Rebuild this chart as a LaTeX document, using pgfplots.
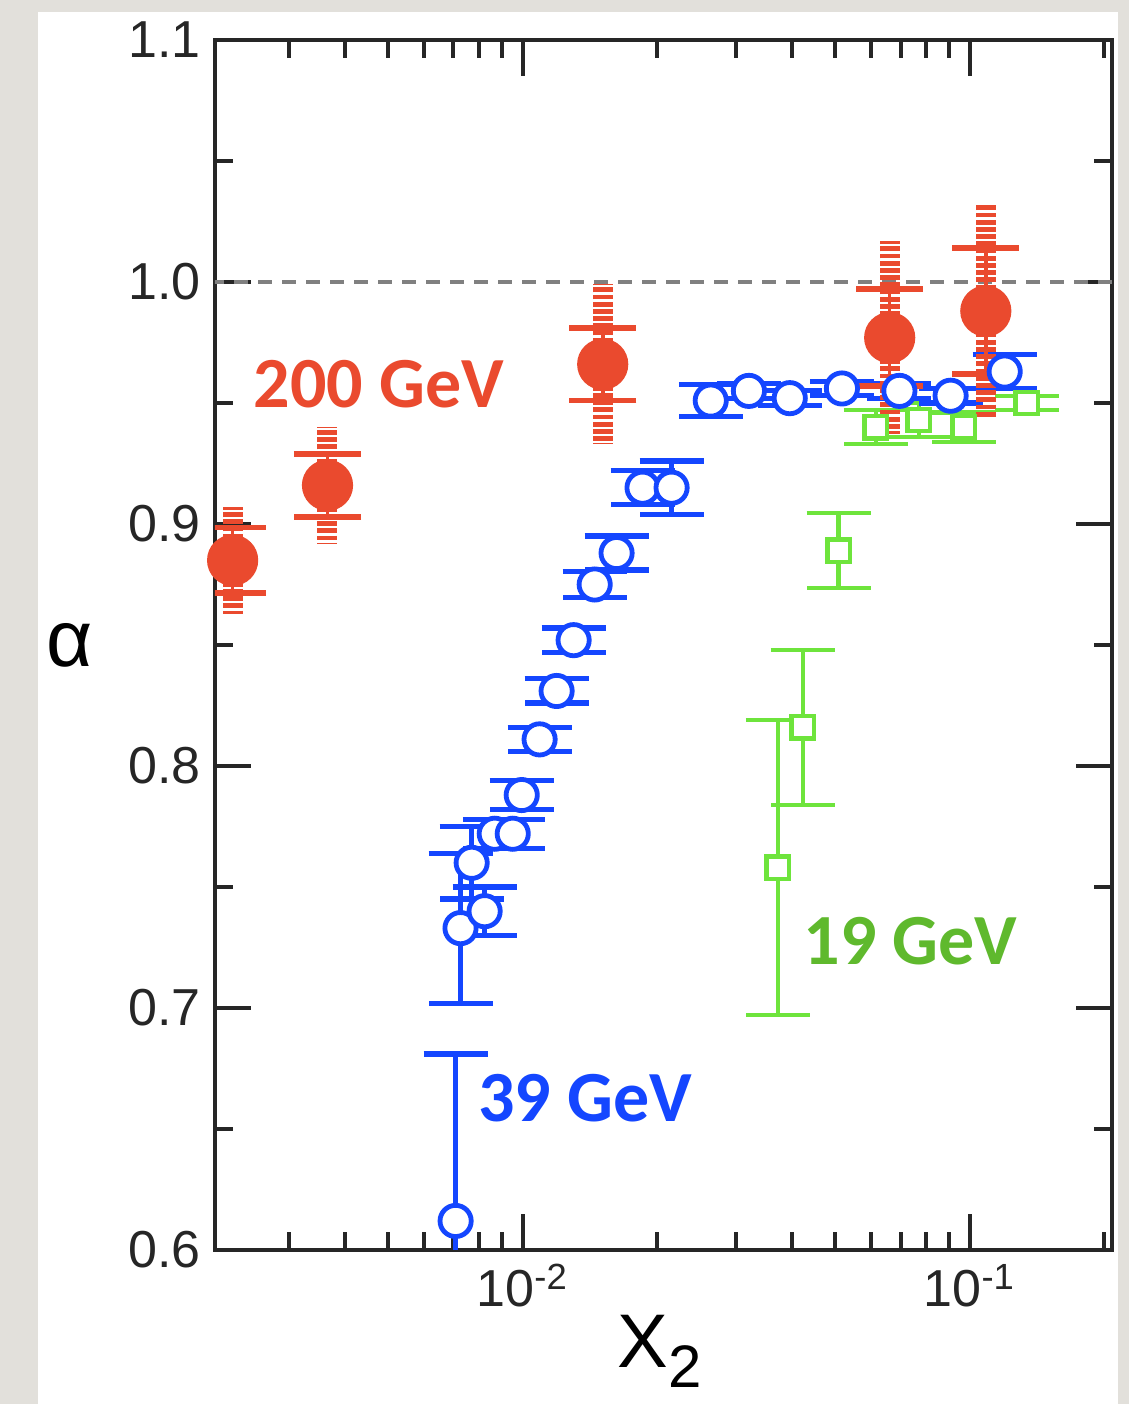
\documentclass[border=0pt]{standalone}
\usepackage{fontspec}
\setmainfont{Liberation Sans}
\newfontfamily\calibri{Carlito}
\usepackage{pgfplots}
\usepackage{pgfplotstable}
\pgfplotsset{compat=1.18}

\definecolor{ared}{RGB}{234,74,46}
\definecolor{ablue}{RGB}{20,70,255}
\definecolor{agreen}{RGB}{110,228,60}
\definecolor{agreentext}{RGB}{95,185,45}
\definecolor{bggray}{RGB}{226,224,219}

% 39 GeV, open circles
\pgfplotstableread{
x y e
0.00708 0.612 0.069
0.00726 0.733 0.031
0.00822 0.740 0.010
0.00769 0.760 0.015
0.00866 0.772 0.006
0.00950 0.772 0.006
0.00995 0.788 0.006
0.01091 0.811 0.005
0.01191 0.831 0.005
0.01300 0.852 0.005
0.01449 0.875 0.0055
0.01622 0.888 0.007
0.01854 0.915 0.007
0.02153 0.915 0.011
0.02634 0.951 0.0065
0.03206 0.955 0.003
0.03957 0.952 0.003
0.05176 0.956 0.003
0.0696 0.955 0.003
0.0906 0.953 0.003
0.1197 0.963 0.007
}\bluedata

% 19 GeV, open squares
\pgfplotstableread{
x y e
0.0372 0.758 0.061
0.0423 0.816 0.032
0.0509 0.889 0.0155
0.0616 0.940 0.007
0.0769 0.943 0.007
0.0970 0.940 0.006
0.1340 0.950 0.003
}\greendata

% 200 GeV, filled circles: stat and sys errors
\pgfplotstableread{
x y stat sys
0.002245 0.885 0.0135 0.022
0.00366 0.916 0.013 0.024
0.0151 0.966 0.015 0.033
0.0662 0.977 0.020 0.040
0.1086 0.988 0.026 0.044
}\reddata

\begin{document}
\begin{tikzpicture}
\useasboundingbox (-53.75pt,-38.5pt) rectangle (228.5pt,312.5pt);
\fill[bggray] (-53.75pt,-38.5pt) rectangle (228.5pt,312.5pt);
\fill[white] (-44.25pt,-38.5pt) rectangle (225.75pt,309.5pt);
\begin{axis}[
    at={(0,0)}, anchor=south west,
    scale only axis, width=224.25pt, height=302.5pt,
    xmode=log, xmin=0.00205, xmax=0.208,
    ymin=0.6, ymax=1.1,
    xtick={0.01,0.1},
    xticklabels={10\textsuperscript{-2},10\textsuperscript{-1}},
    minor xtick={0.003,0.004,0.005,0.006,0.007,0.008,0.009,0.02,0.03,0.04,0.05,0.06,0.07,0.08,0.09,0.2},
    ytick={0.6,0.7,0.8,0.9,1.0,1.1},
    minor ytick={0.65,0.75,0.85,0.95,1.05},
    yticklabel style={/pgf/number format/.cd, fixed, precision=1, zerofill, assume math mode=true},
    tick label style={font=\fontsize{13}{13}\selectfont, black!85},
    major tick length=9pt, minor tick length=4.5pt,
    every tick/.style={black!85, line width=1pt},
    axis line style={black!85, line width=1.1pt},
    ylabel={α},
    ylabel style={rotate=-90, at={(rel axis cs:-0.162,0.5)}, anchor=center, font=\fontsize{20}{20}\selectfont},
    xlabel={X\raisebox{-0.5ex}{\fontsize{15}{15}\selectfont 2}},
    xlabel style={at={(rel axis cs:0.496,-0.084)}, anchor=center, font=\fontsize{19}{19}\selectfont},
]
\addplot[gray, line width=0.8pt, dash pattern=on 3.5pt off 2.5pt] coordinates {(0.002,1.0) (0.25,1.0)};

\addplot[only marks, mark=square*, mark size=2.8pt, color=agreen, mark options={line width=1.1pt, draw=agreen, fill=white},
    error bars/.cd, y dir=both, y explicit,
    error bar style={line width=1.1pt, agreen},
    error mark options={rotate=90, mark size=8pt, line width=1.1pt, agreen}]
    table[x=x, y=y, y error=e] {\greendata};

\addplot[only marks, mark=*, mark size=3.9pt, color=ablue, mark options={line width=1.2pt, draw=ablue, fill=white},
    error bars/.cd, y dir=both, y explicit,
    error bar style={line width=1.2pt, ablue},
    error mark options={rotate=90, mark size=8pt, line width=1.3pt, ablue}]
    table[x=x, y=y, y error=e] {\bluedata};

\addplot[only marks, mark=none,
    error bars/.cd, y dir=both, y explicit,
    error bar style={draw=ared, line width=5pt, dash pattern=on 1.2pt off 0.6pt},
    error mark=none]
    table[x=x, y=y, y error=sys] {\reddata};

\addplot[only marks, mark=none,
    error bars/.cd, y dir=both, y explicit,
    error bar style={draw=ared, line width=0.9pt},
    error mark options={rotate=90, mark size=8.4pt, line width=1.4pt, ared}]
    table[x=x, y=y, y error=stat] {\reddata};

\addplot[only marks, mark=*, mark size=6.2pt, color=ared] table[x=x, y=y] {\reddata};

\node[font=\calibri\bfseries\fontsize{18}{18}\selectfont, text=ared, anchor=base west, inner sep=0pt] at (axis cs:0.00249,0.948) {200 GeV};
\node[font=\calibri\bfseries\fontsize{18}{18}\selectfont, text=ablue, anchor=base west, inner sep=0pt] at (axis cs:0.00793,0.653) {39 GeV};
\node[font=\calibri\bfseries\fontsize{18}{18}\selectfont, text=agreentext, anchor=base west, inner sep=0pt] at (axis cs:0.0423,0.718) {19 GeV};
\end{axis}
\end{tikzpicture}
\end{document}
